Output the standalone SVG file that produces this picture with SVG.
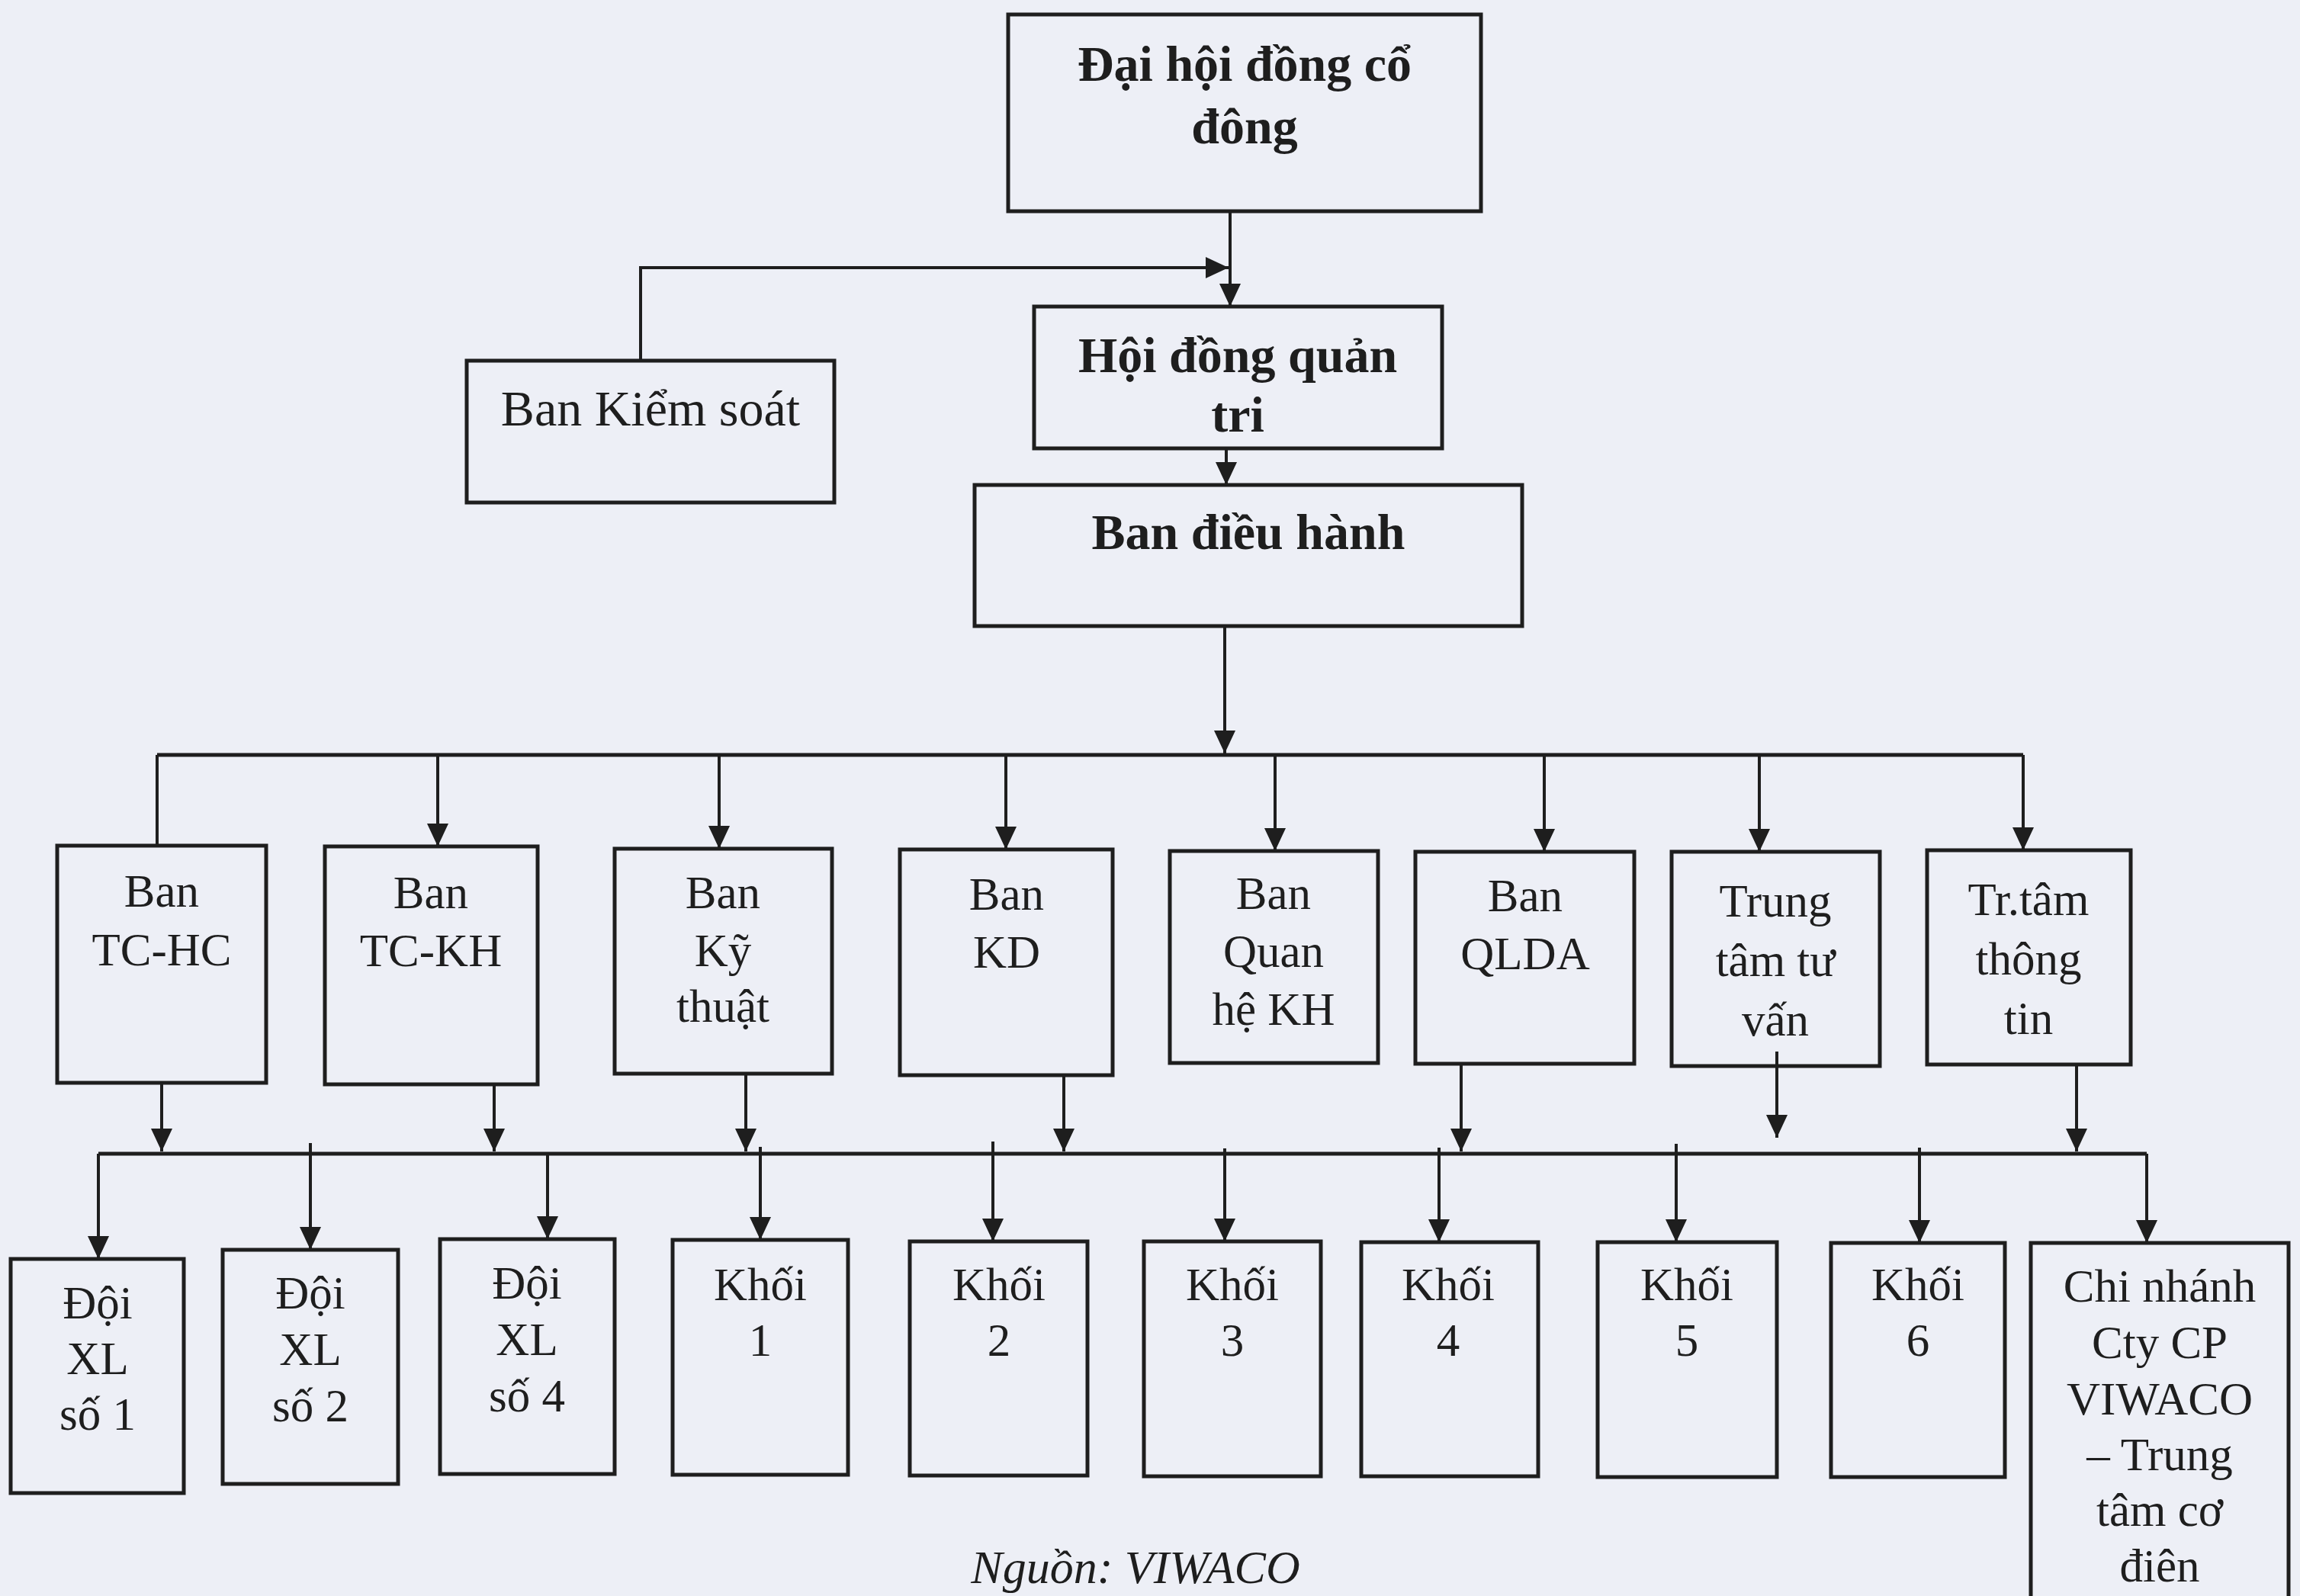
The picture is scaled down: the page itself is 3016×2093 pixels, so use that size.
<svg xmlns="http://www.w3.org/2000/svg" width="3016" height="2093" viewBox="0 0 3016 2093">
<style>
.bg{fill:#edeff6}
.box{fill:none;stroke:#1e1e1e;stroke-width:5}
.t{font-family:"Liberation Serif","DejaVu Serif",serif;font-size:61px;text-anchor:middle;fill:#1e1e1e}
.tb{font-family:"Liberation Serif","DejaVu Serif",serif;font-size:66px;font-weight:bold;text-anchor:middle;fill:#1e1e1e}
.c{fill:none;stroke:#1e1e1e;stroke-width:4}
.bus{fill:none;stroke:#1e1e1e;stroke-width:5}
.a{marker-end:url(#arr)}
</style>
<defs>
<marker id="arr" markerUnits="userSpaceOnUse" markerWidth="32" markerHeight="30" refX="30" refY="14" orient="auto">
<path d="M0,0 L30,14 L0,28 z" fill="#1e1e1e"/>
</marker>
</defs>
<rect class="bg" x="0" y="0" width="3016" height="2093"/>
<g id="connectors">
<path class="c a" d="M1613,279 V402"/>
<path class="c a" d="M840,473 V351 H1611"/>
<path class="c a" d="M1608,590 V636"/>
<path class="c a" d="M1606,823 V988"/>
<path class="bus" d="M206,990 H2653"/>
<path class="c" d="M206,990 V1109"/>
<path class="c a" d="M2653,990 V1115"/>
<path class="c a" d="M574,990 V1110"/>
<path class="c a" d="M943,990 V1113"/>
<path class="c a" d="M1319,990 V1114"/>
<path class="c a" d="M1672,990 V1116"/>
<path class="c a" d="M2025,990 V1117"/>
<path class="c a" d="M2307,990 V1117"/>
<path class="c a" d="M212,1422 V1510"/>
<path class="c a" d="M648,1424 V1510"/>
<path class="c a" d="M978,1410 V1510"/>
<path class="c a" d="M1395,1412 V1510"/>
<path class="c a" d="M1916,1397 V1510"/>
<path class="c a" d="M2330,1379 V1492"/>
<path class="c a" d="M2723,1398 V1510"/>
<path class="bus" d="M129,1513 H2815"/>
<path class="c a" d="M129,1513 V1651"/>
<path class="c a" d="M407,1499 V1639"/>
<path class="c a" d="M718,1513 V1625"/>
<path class="c a" d="M997,1504 V1626"/>
<path class="c a" d="M1302,1497 V1628"/>
<path class="c a" d="M1606,1506 V1628"/>
<path class="c a" d="M1887,1505 V1629"/>
<path class="c a" d="M2198,1500 V1629"/>
<path class="c a" d="M2517,1505 V1630"/>
<path class="c a" d="M2815,1513 V1630"/>
</g>
<g id="n-daihoi"><rect class="box" x="1322" y="19" width="620" height="258"/><text class="tb" x="1632" y="106">Đại hội đồng cổ</text><text class="tb" x="1632" y="188">đông</text></g>
<g id="n-kiemsoat"><rect class="box" x="612" y="473" width="482" height="186"/><text class="t" x="853" y="558" style="font-size:66px">Ban Kiểm soát</text></g>
<g id="n-hdqt"><rect class="box" x="1356" y="402" width="535" height="186"/><text class="tb" x="1623" y="488">Hội đồng quản</text><text class="tb" x="1623" y="566">tri</text></g>
<g id="n-bdh"><rect class="box" x="1278" y="636" width="718" height="185"/><text class="tb" x="1637" y="720">Ban điều hành</text></g>
<g id="n-tchc"><rect class="box" x="75" y="1109" width="274" height="311"/><text class="t" x="212" y="1189">Ban</text><text class="t" x="212" y="1266">TC-HC</text></g>
<g id="n-tckh"><rect class="box" x="426" y="1110" width="279" height="312"/><text class="t" x="565" y="1191">Ban</text><text class="t" x="565" y="1267">TC-KH</text></g>
<g id="n-kythuat"><rect class="box" x="806" y="1113" width="285" height="295"/><text class="t" x="948" y="1191">Ban</text><text class="t" x="948" y="1267">Kỹ</text><text class="t" x="948" y="1340">thuật</text></g>
<g id="n-kd"><rect class="box" x="1180" y="1114" width="279" height="296"/><text class="t" x="1320" y="1193">Ban</text><text class="t" x="1320" y="1269">KD</text></g>
<g id="n-qhkh"><rect class="box" x="1534" y="1116" width="273" height="278"/><text class="t" x="1670" y="1192">Ban</text><text class="t" x="1670" y="1268">Quan</text><text class="t" x="1670" y="1344">hệ KH</text></g>
<g id="n-qlda"><rect class="box" x="1856" y="1117" width="287" height="278"/><text class="t" x="2000" y="1195">Ban</text><text class="t" x="2000" y="1271">QLDA</text></g>
<g id="n-tttv"><rect class="box" x="2192" y="1117" width="273" height="281"/><text class="t" x="2328" y="1202">Trung</text><text class="t" x="2328" y="1280">tâm tư</text><text class="t" x="2328" y="1358">vấn</text></g>
<g id="n-tttt"><rect class="box" x="2527" y="1115" width="267" height="281"/><text class="t" x="2660" y="1200">Tr.tâm</text><text class="t" x="2660" y="1278">thông</text><text class="t" x="2660" y="1356">tin</text></g>
<g id="n-doi1"><rect class="box" x="14" y="1651" width="227" height="307"/><text class="t" x="128" y="1729">Đội</text><text class="t" x="128" y="1802">XL</text><text class="t" x="128" y="1875">số 1</text></g>
<g id="n-doi2"><rect class="box" x="292" y="1639" width="230" height="307"/><text class="t" x="407" y="1716">Đội</text><text class="t" x="407" y="1790">XL</text><text class="t" x="407" y="1864">số 2</text></g>
<g id="n-doi4"><rect class="box" x="577" y="1625" width="229" height="308"/><text class="t" x="691" y="1703">Đội</text><text class="t" x="691" y="1777">XL</text><text class="t" x="691" y="1851">số 4</text></g>
<g id="n-khoi1"><rect class="box" x="882" y="1626" width="230" height="308"/><text class="t" x="997" y="1705">Khối</text><text class="t" x="997" y="1778">1</text></g>
<g id="n-khoi2"><rect class="box" x="1193" y="1628" width="233" height="307"/><text class="t" x="1310" y="1705">Khối</text><text class="t" x="1310" y="1778">2</text></g>
<g id="n-khoi3"><rect class="box" x="1500" y="1628" width="232" height="308"/><text class="t" x="1616" y="1705">Khối</text><text class="t" x="1616" y="1778">3</text></g>
<g id="n-khoi4"><rect class="box" x="1785" y="1629" width="232" height="307"/><text class="t" x="1899" y="1705">Khối</text><text class="t" x="1899" y="1778">4</text></g>
<g id="n-khoi5"><rect class="box" x="2095" y="1629" width="235" height="308"/><text class="t" x="2212" y="1705">Khối</text><text class="t" x="2212" y="1778">5</text></g>
<g id="n-khoi6"><rect class="box" x="2401" y="1630" width="228" height="307"/><text class="t" x="2515" y="1705">Khối</text><text class="t" x="2515" y="1778">6</text></g>
<g id="n-chinhanh"><rect class="box" x="2663" y="1630" width="338" height="500"/><text class="t" x="2832" y="1707">Chi nhánh</text><text class="t" x="2832" y="1781">Cty CP</text><text class="t" x="2832" y="1855">VIWACO</text><text class="t" x="2832" y="1928">– Trung</text><text class="t" x="2832" y="2001">tâm cơ</text><text class="t" x="2832" y="2074">điên</text></g>
<text class="t" x="1489" y="2076" style="font-style:italic;font-size:62px">Nguồn: VIWACO</text>
</svg>
